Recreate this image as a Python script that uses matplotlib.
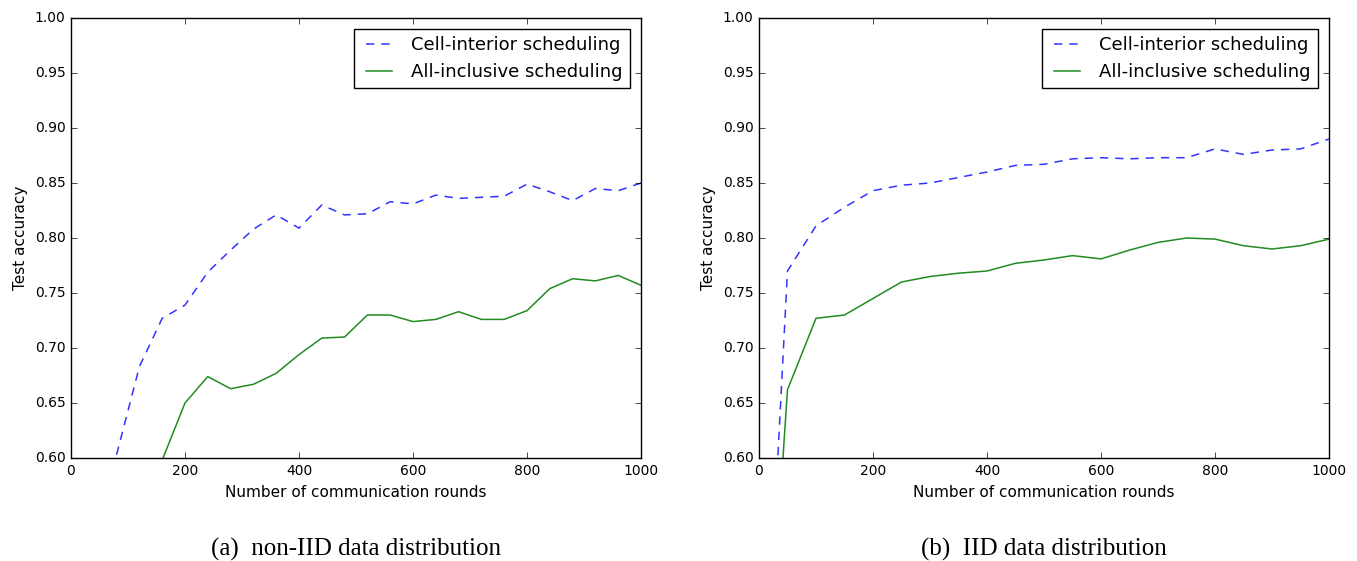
import matplotlib
matplotlib.use("Agg")
import matplotlib.pyplot as plt

### Données

# (a) non-IID
rounds_a = [80, 120, 160, 200, 240, 280, 320, 360, 400, 440, 480, 520, 560,
            600, 640, 680, 720, 760, 800, 840, 880, 920, 960, 1000]
cell_a = [0.603, 0.683, 0.727, 0.739, 0.769, 0.789, 0.808, 0.821, 0.809,
          0.830, 0.821, 0.822, 0.833, 0.831, 0.839, 0.836, 0.837, 0.838,
          0.849, 0.842, 0.834, 0.845, 0.843, 0.850]
rounds_a2 = [160, 200, 240, 280, 320, 360, 400, 440, 480, 520, 560, 600,
             640, 680, 720, 760, 800, 840, 880, 920, 960, 1000]
all_a = [0.598, 0.650, 0.674, 0.663, 0.667, 0.677, 0.694, 0.709, 0.710,
         0.730, 0.730, 0.724, 0.726, 0.733, 0.726, 0.726, 0.734, 0.754,
         0.763, 0.761, 0.766, 0.757]

# (b) IID
rounds_b = [0, 50, 100, 150, 200, 250, 300, 350, 400, 450, 500, 550, 600,
            650, 700, 750, 800, 850, 900, 950, 1000]
cell_b = [0.27, 0.770, 0.811, 0.828, 0.843, 0.848, 0.850, 0.855, 0.860,
          0.866, 0.867, 0.872, 0.873, 0.872, 0.873, 0.873, 0.881, 0.876,
          0.880, 0.881, 0.890]
all_b = [0.27, 0.662, 0.727, 0.730, 0.745, 0.760, 0.765, 0.768, 0.770,
         0.777, 0.780, 0.784, 0.781, 0.789, 0.796, 0.800, 0.799, 0.793,
         0.790, 0.793, 0.799]

yticks = [0.60, 0.65, 0.70, 0.75, 0.80, 0.85, 0.90, 0.95, 1.00]
captions = ["(a)  non-IID data distribution", "(b)  IID data distribution"]

### Figure

plt.style.use("classic")
plt.rcParams["font.family"] = "DejaVu Sans"

fig = plt.figure(figsize=(13.57, 5.61), dpi=100, facecolor="white")
ax1 = fig.add_axes([0.0523, 0.1836, 0.4201, 0.7843])
ax2 = fig.add_axes([0.5593, 0.1836, 0.4201, 0.7843])

data = [(ax1, rounds_a, cell_a, rounds_a2, all_a),
        (ax2, rounds_b, cell_b, rounds_b, all_b)]

for ax, x1, y1, x2, y2 in data:
    ax.plot(x1, y1, "--", color="#3333ff", lw=1.1, dashes=(6, 5),
            label="Cell-interior scheduling")
    ax.plot(x2, y2, "-", color="#228b22", lw=1.1,
            label="All-inclusive scheduling")
    ax.set_xlim(0, 1000)
    ax.set_ylim(0.60, 1.00)
    ax.set_yticks(yticks)
    ax.set_yticklabels(["%.2f" % v for v in yticks])
    ax.tick_params(labelsize=10)
    ax.set_xlabel("Number of communication rounds", fontsize=11)
    ax.set_ylabel("Test accuracy", fontsize=11)
    ax.legend(loc="upper right", fontsize=13, handlelength=2.0,
              borderaxespad=0.6)

for ax, cap in zip([ax1, ax2], captions):
    ax.text(0.5, -0.207, cap, transform=ax.transAxes, ha="center",
            va="center", fontsize=18, family="Liberation Serif")

fig.savefig("out.png", dpi=100, facecolor="white")
